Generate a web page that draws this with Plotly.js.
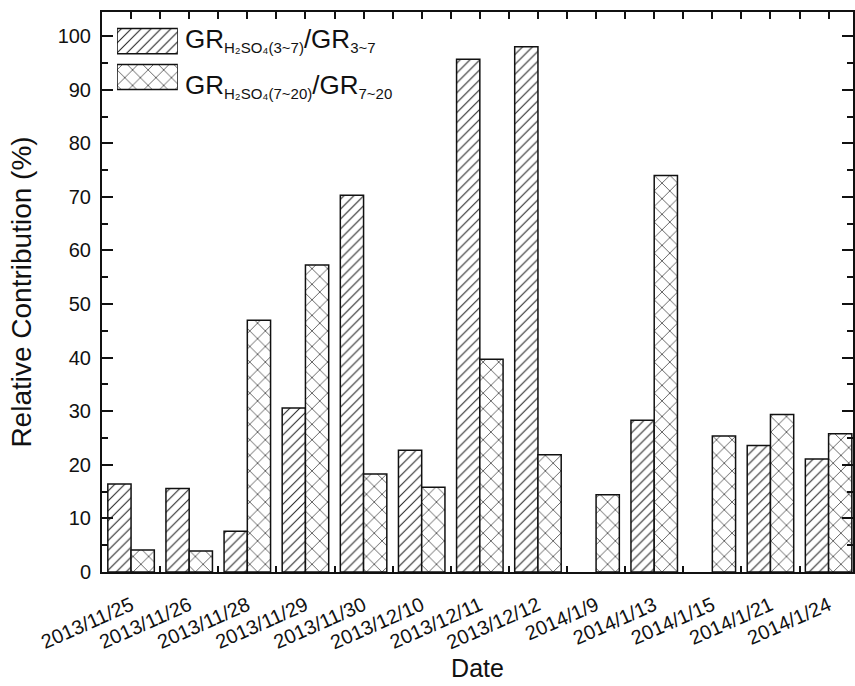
<!DOCTYPE html>
<html>
<head>
<meta charset="utf-8">
<script src="https://cdn.plot.ly/plotly-3.0.1.min.js"></script>
<style>html,body{margin:0;padding:0;background:#fff;}#chart{width:855px;height:686px;}</style>
</head>
<body>
<div id="chart"></div>
<script>
const dates = ["2013/11/25","2013/11/26","2013/11/28","2013/11/29","2013/11/30","2013/12/10","2013/12/11","2013/12/12","2014/1/9","2014/1/13","2014/1/15","2014/1/21","2014/1/24"];
const ratio3to7 = [16.4, 15.6, 7.6, 30.6, 70.3, 22.7, 95.7, 98.0, null, 28.3, null, 23.6, 21.1];
const ratio7to20 = [4.1, 3.9, 47.0, 57.3, 18.3, 15.8, 39.7, 21.9, 14.4, 74.0, 25.4, 29.4, 25.8];
const seriesNames = [
  "GR<sub><span style='font-size:15px'>H₂SO₄(3~7)</span></sub>/GR<sub><span style='font-size:15px'>3~7</span></sub>",
  "GR<sub><span style='font-size:15px'>H₂SO₄(7~20)</span></sub>/GR<sub><span style='font-size:15px'>7~20</span></sub>"
];
const legendRows = [0, 1];

const font = "Liberation Sans, Arial, sans-serif";
const patterns = [
  {shape:"/", fgcolor:"#222", bgcolor:"#fff", size:7, solidity:0.15},
  {shape:"x", fgcolor:"#222", bgcolor:"#fff", size:11, solidity:0.12}
];
const barLine = {color:"#111", width:1.5};

const traces = [
  {type:"bar", x:dates, y:ratio3to7, name:seriesNames[0], showlegend:false,
   marker:{color:"#ffffff", line:barLine, pattern:patterns[0]}},
  {type:"bar", x:dates, y:ratio7to20, name:seriesNames[1], showlegend:false,
   marker:{color:"#ffffff", line:barLine, pattern:patterns[1]}},
  {type:"scatter", x:[0], y:[null], xaxis:"x2", showlegend:false, hoverinfo:"skip"}
];
// legend swatches (drawn as bars in a small inset axis so they carry the same hatch)
legendRows.forEach((r) => {
  traces.push({type:"bar", orientation:"h", y:[r], x:[1], width:0.7, xaxis:"x3", yaxis:"y3",
    showlegend:false, hoverinfo:"skip",
    marker:{color:"#ffffff", line:barLine, pattern:patterns[r]}});
});

const annotations = legendRows.map((r) => ({
  xref:"paper", yref:"paper", x:0.108, y:[0.950, 0.868][r], xanchor:"left", yanchor:"middle",
  text:seriesNames[r], showarrow:false, font:{size:26, family:font, color:"#111"}
}));

const layout = {
  width:855, height:686,
  margin:{l:102, r:2, t:12, b:114},
  paper_bgcolor:"#fff", plot_bgcolor:"#fff",
  barmode:"group", bargap:0.2, bargroupgap:0,
  font:{family:font, color:"#111"},
  showlegend:false,
  xaxis:{type:"category", range:[-0.5, 12.42], showline:true, linecolor:"#111", linewidth:2,
         mirror:true, ticks:"inside", tickson:"boundaries", ticklen:6, tickwidth:2, tickcolor:"#111",
         tickangle:-24, ticklabelstandoff:12, tickfont:{size:20, family:font}, showgrid:false, zeroline:false,
         title:{text:"Date", font:{size:25, family:font}, standoff:4}},
  xaxis2:{overlaying:"x", side:"top", anchor:"y", range:[-0.5, 12.42], dtick:0.5, tick0:0,
          ticks:"inside", ticklen:7, tickwidth:2, tickcolor:"#111", showticklabels:false,
          showgrid:false, zeroline:false, showline:false},
  yaxis:{range:[0, 104.5], dtick:10, showline:true, linecolor:"#111", linewidth:2, mirror:"ticks",
         ticks:"inside", ticklen:11, tickwidth:2, tickcolor:"#111", ticklabelstandoff:5,
         minor:{dtick:5, ticks:"inside", ticklen:6, tickwidth:2, tickcolor:"#111"},
         tickfont:{size:20, family:font}, showgrid:false, zeroline:false,
         title:{text:"Relative Contribution (%)", font:{size:28, family:font}, standoff:18}},
  xaxis3:{domain:[0.02, 0.101], range:[0, 1], anchor:"y3", visible:false, fixedrange:true},
  yaxis3:{domain:[0.852, 0.980], range:[1.5, -0.5], anchor:"x3", visible:false, fixedrange:true},
  annotations:annotations
};

Plotly.newPlot("chart", traces, layout, {displayModeBar:false, staticPlot:true});
</script>
</body>
</html>
